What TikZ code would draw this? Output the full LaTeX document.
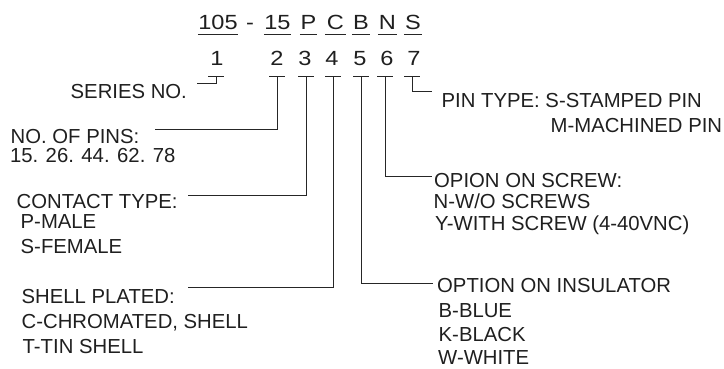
\documentclass[tikz,border=0pt]{standalone}
\usepackage{fontspec}
\setmainfont{Liberation Sans}
\newfontfamily\codefont[FakeStretch=1.15]{Liberation Sans}
\begin{document}
\begin{tikzpicture}[x=1pt,y=-1pt,
  lbl/.style={anchor=base west,inner sep=0pt,text=black!88,font=\fontsize{20.3}{24}\selectfont},
  code/.style={anchor=base,inner sep=0pt,text=black!88,font=\codefont\fontsize{20.5}{24}\selectfont},
  uline/.style={draw=black!85,line width=1pt},
  conn/.style={draw=black!85,line width=1pt}]
\useasboundingbox (0,0) rectangle (724,368);
% top code row
\node[code,minimum width=40pt] (c105) at (218,29) {105};
\node[code] (dash) at (250,29) {-};
\node[code,minimum width=27pt] (c15) at (277.5,29) {15};
\node[code,minimum width=17pt] (cP) at (308.5,29) {P};
\node[code,minimum width=21pt] (cC) at (335.5,29) {C};
\node[code,minimum width=18pt] (cB) at (361,29) {B};
\node[code,minimum width=19pt] (cN) at (387.5,29) {N};
\node[code,minimum width=18pt] (cS) at (413,29) {S};
\foreach \n in {c105,c15,cP,cC,cB,cN,cS}
  \draw[uline] ([yshift=-5pt]\n.base west) -- ([yshift=-5pt]\n.base east);
% index row
\node[code] (d1) at (217,65) {1};
\node[code] (d2) at (277,65) {2};
\node[code] (d3) at (305,65) {3};
\node[code] (d4) at (332,65) {4};
\node[code] (d5) at (360,65) {5};
\node[code] (d6) at (387,65) {6};
\node[code] (d7) at (414,65) {7};
% bracket tops
\coordinate (t1) at (216,76);
\coordinate (t2) at (277,76);
\coordinate (t3) at (306,76);
\coordinate (t4) at (333,76);
\coordinate (t5) at (361,76);
\coordinate (t6) at (385,76);
\coordinate (t7) at (412,76);
\foreach \t in {t1,t2,t3,t4,t5,t6,t7}
  \draw[conn] ([xshift=-8pt]\t) -- ([xshift=8pt]\t);
% labels
\node[lbl] (series) at (70.5,98) {SERIES NO.};
\node[lbl] (pins) at (10.5,143) {NO. OF PINS:};
\node[lbl] (pinsv) at (9.8,162) {15. 26. 44. 62. 78};
\node[lbl] (contact) at (16.5,208) {CONTACT TYPE:};
\node[lbl] (pmale) at (20.5,228) {P-MALE};
\node[lbl] (sfemale) at (20.5,253) {S-FEMALE};
\node[lbl] (shell) at (21.5,303) {SHELL PLATED:};
\node[lbl] (chrom) at (21.5,328) {C-CHROMATED, SHELL};
\node[lbl] (tin) at (22.5,353) {T-TIN SHELL};
\node[lbl] (pintype) at (441.5,107) {PIN TYPE: S-STAMPED PIN};
\node[lbl] (mach) at (550.5,132) {M-MACHINED PIN};
\node[lbl] (screw) at (434,187) {OPION ON SCREW:};
\node[lbl] (wo) at (433.5,208) {N-W/O SCREWS};
\node[lbl] (with) at (435,230) {Y-WITH SCREW (4-40VNC)};
\node[lbl] (insul) at (437,292) {OPTION ON INSULATOR};
\node[lbl] (blue) at (438.5,317) {B-BLUE};
\node[lbl] (black) at (438.5,341.5) {K-BLACK};
\node[lbl] (white) at (438,364.5) {W-WHITE};
% connector ends
\coordinate (e1) at (197,83);
\coordinate (e2) at (155,129);
\coordinate (e3) at (188,195);
\coordinate (e4) at (188,287.5);
\coordinate (e5) at (433,283);
\coordinate (e6) at (432,176);
\coordinate (e7) at (432,91);
% connectors
\draw[conn] (t1) |- (e1);
\draw[conn] (t2) |- (e2);
\draw[conn] (t3) |- (e3);
\draw[conn] (t4) |- (e4);
\draw[conn] (t5) |- (e5);
\draw[conn] (t6) |- (e6);
\draw[conn] (t7) |- (e7);
\end{tikzpicture}
\end{document}
